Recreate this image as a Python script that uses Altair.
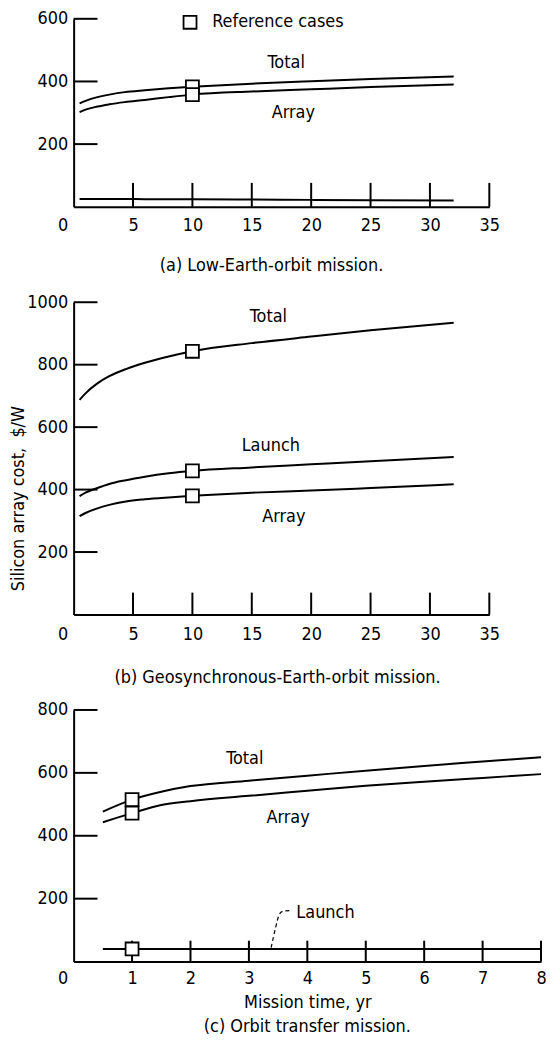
import altair as alt
import pandas as pd

FONT = "DejaVu Sans Condensed"
FS = 18

# ---------------- data ----------------
# (a) Low-Earth-orbit mission
a_x = [0.5, 1, 2, 3, 4.3, 6, 8, 10, 15, 20, 25, 32]
a_total = [330, 338, 350, 358, 366, 372, 378, 383, 393, 401, 408, 416]
a_array = [302, 310, 320, 327, 334, 341, 350, 358, 368, 375, 382, 390]
a_launch = [25, 25, 25, 25, 25, 24, 24, 24, 23, 22, 21, 20]
a_ref_x = [10, 10]
a_ref_y = [383, 358]
a_xticks = [0, 5, 10, 15, 20, 25, 30, 35]
a_yticks = [200, 400, 600]
a_lab_text = ["Total", "Array", "Reference cases"]
a_lab_x = [17.9, 18.5, 17.2]
a_lab_y = [459, 300, 589]
a_legend_x = [9.8]
a_legend_y = [589]

# (b) Geosynchronous-Earth-orbit mission
b_x = [0.5, 1, 2, 3, 4.4, 6, 8, 10, 15, 20, 25, 32]
b_total = [687, 708, 740, 763, 786, 806, 826, 843, 869, 890, 910, 934]
b_launch = [379, 390, 405, 418, 430, 441, 452, 460, 471, 481, 491, 504]
b_array = [315, 325, 340, 351, 362, 369, 375, 380, 390, 397, 405, 417]
b_ref_x = [10, 10, 10]
b_ref_y = [843, 460, 380]
b_xticks = [0, 5, 10, 15, 20, 25, 30, 35]
b_yticks = [200, 400, 600, 800, 1000]
b_lab_text = ["Total", "Launch", "Array"]
b_lab_x = [16.4, 16.6, 17.7]
b_lab_y = [952, 541, 312]

# (c) Orbit transfer mission
c_x = [0.5, 1, 1.5, 2, 3, 4, 5, 6, 7, 8]
c_total = [477, 515, 540, 558, 575, 591, 607, 622, 636, 650]
c_array = [443, 472, 498, 510, 527, 543, 559, 572, 584, 596]
c_launch = [40, 40, 40, 40, 40, 40, 40, 40, 40, 40]
c_ref_x = [1, 1, 1]
c_ref_y = [515, 472, 40]
c_xticks = [0, 1, 2, 3, 4, 5, 6, 7, 8]
c_yticks = [200, 400, 600, 800]
c_lab_text = ["Total", "Array", "Launch"]
c_lab_x = [2.93, 3.67, 4.31]
c_lab_y = [644, 456, 155]
c_lead_x = [3.38, 3.46, 3.52, 3.58, 3.70]
c_lead_y = [44, 110, 150, 160, 162]


def lines_df(x, series):
    rows = []
    for name, vals in series.items():
        for xi, vi in zip(x, vals):
            rows.append({"x": xi, "v": vi, "series": name})
    return pd.DataFrame(rows)


def panel(ldf, refx, refy, labt, labx, laby, xdom, ydom, xticks, yticks,
          w, h, xtick_len, ytick_len, caption, cap_offset, cap_dx,
          xlabpad, ytitle=None, xtitle=None, extra=None, legend=None):
    xs = alt.Scale(domain=xdom, nice=False, zero=False)
    ys = alt.Scale(domain=ydom, nice=False, zero=False)
    xaxis_kw = dict(values=xticks, ticks=False, grid=False, domainColor="black",
                    domainWidth=2, labelFont=FONT, labelFontSize=FS, labelColor="black",
                    labelPadding=xlabpad, labelFlush=False, labelOverlap=False, format="d",
                    labelOffset={"condition": {"test": "datum.value == 0", "value": -11}, "value": 0})
    if xtitle:
        xaxis_kw.update(title=xtitle, titleFont=FONT, titleFontSize=FS,
                        titleFontWeight="normal", titleColor="black", titlePadding=6)
    else:
        xaxis_kw.update(title=None)
    yaxis_kw = dict(values=yticks, ticks=False, grid=False, domainColor="black",
                    domainWidth=2, labelFont=FONT, labelFontSize=FS, labelColor="black",
                    labelPadding=6, labelFlush=False, labelOverlap=False, format="d")
    if ytitle:
        yaxis_kw.update(title=ytitle, titleFont=FONT, titleFontSize=FS,
                        titleFontWeight="normal", titleColor="black",
                        titleX=-55, titleY=197, titleAngle=270,
                        titleAlign="center", titleBaseline="middle")
    else:
        yaxis_kw.update(title=None)

    X = alt.X("x:Q", scale=xs, axis=alt.Axis(**xaxis_kw))
    Y = alt.Y("v:Q", scale=ys, axis=alt.Axis(**yaxis_kw))

    lines = alt.Chart(ldf).mark_line(color="black", strokeWidth=2, interpolate="monotone").encode(
        x=X, y=Y, detail="series:N")

    ytk = alt.Chart(pd.DataFrame({"v": yticks})).mark_rule(color="black", strokeWidth=2).encode(
        y="v:Q", x=alt.value(0), x2=alt.value(ytick_len))
    xtk = alt.Chart(pd.DataFrame({"x": [t for t in xticks if t != 0]})).mark_rule(
        color="black", strokeWidth=2).encode(
        x="x:Q", y=alt.value(h), y2=alt.value(h - xtick_len))

    layers = [lines, ytk, xtk]
    if extra is not None:
        layers.append(extra)

    refs = alt.Chart(pd.DataFrame({"x": refx, "v": refy})).mark_point(
        shape="square", size=170, filled=True, fill="white", stroke="black",
        strokeWidth=1.8, opacity=1).encode(x="x:Q", y="v:Q")
    layers.append(refs)
    if legend is not None:
        leg = alt.Chart(pd.DataFrame({"x": legend[0], "v": legend[1]})).mark_point(
            shape="square", size=170, filled=True, fill="white", stroke="black",
            strokeWidth=1.8, opacity=1).encode(x="x:Q", y="v:Q")
        layers.append(leg)

    labs = alt.Chart(pd.DataFrame({"x": labx, "v": laby, "t": labt})).mark_text(
        font=FONT, fontSize=FS, color="black", align="center", baseline="middle").encode(
        x="x:Q", y="v:Q", text="t:N")
    layers.append(labs)

    return alt.layer(*layers).properties(
        width=w, height=h,
        title=alt.TitleParams(text=caption, orient="bottom", anchor="middle",
                              font=FONT, fontSize=FS, fontWeight="normal",
                              color="black", offset=cap_offset, dx=cap_dx))


pa = panel(lines_df(a_x, {"Total": a_total, "Array": a_array, "Launch": a_launch}),
           a_ref_x, a_ref_y, a_lab_text, a_lab_x, a_lab_y,
           [0, 35], [0, 600], a_xticks, a_yticks, 418, 189, 24, 24,
           "(a) Low-Earth-orbit mission.", 23, -10, 10,
           legend=(a_legend_x, a_legend_y))

pb = panel(lines_df(b_x, {"Total": b_total, "Launch": b_launch, "Array": b_array}),
           b_ref_x, b_ref_y, b_lab_text, b_lab_x, b_lab_y,
           [0, 35], [0, 1000], b_xticks, b_yticks, 418, 314, 22, 24,
           "(b) Geosynchronous-Earth-orbit mission.", 26, -4, 11,
           ytitle="Silicon array cost,\u00a0\u00a0$/W")

lead = alt.Chart(pd.DataFrame({"x": c_lead_x, "v": c_lead_y})).mark_line(
    color="black", strokeWidth=1.2, strokeDash=[4, 3], interpolate="monotone").encode(
    x="x:Q", y="v:Q")

pc = panel(lines_df(c_x, {"Total": c_total, "Array": c_array, "Launch": c_launch}),
           c_ref_x, c_ref_y, c_lab_text, c_lab_x, c_lab_y,
           [0, 8], [0, 800], c_xticks, c_yticks, 470, 253, 21, 24,
           "(c) Orbit transfer mission.", 7, 0, 8,
           xtitle="Mission time, yr", extra=lead)

chart = alt.vconcat(pa, pb, pc, spacing=96, bounds="flush").configure_view(
    stroke=None).properties(padding={"left": 2, "top": -1, "right": 0, "bottom": 0})

chart.save("out.html", embed_options={"renderer": "svg", "actions": False})
